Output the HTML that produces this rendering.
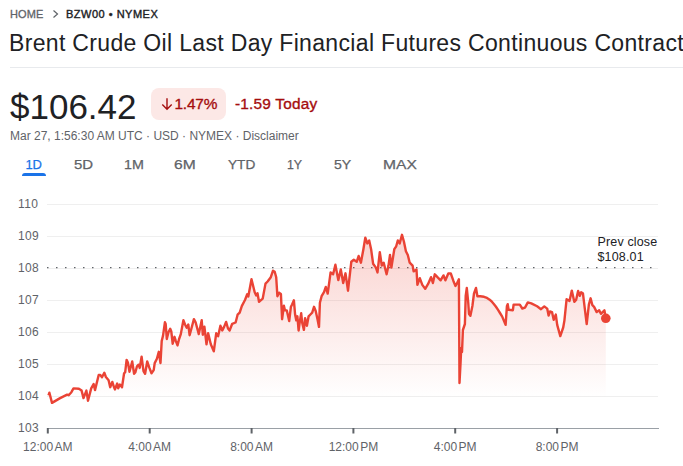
<!DOCTYPE html>
<html><head><meta charset="utf-8">
<style>
html,body{margin:0;padding:0;background:#fff;width:683px;height:466px;overflow:hidden;position:relative;font-family:"Liberation Sans",sans-serif;}
.a{position:absolute;white-space:nowrap;}
#crumb{left:10px;top:8px;font-size:11px;color:#5f6368;letter-spacing:0.1px;-webkit-text-stroke:0.3px #5f6368;}
#crumb2{left:66px;top:8px;font-size:11px;color:#202124;letter-spacing:0.5px;-webkit-text-stroke:0.4px #202124;}
#title{left:9px;top:30px;font-size:23px;color:#202124;letter-spacing:0.33px;}
#hr{left:10px;top:67px;width:673px;height:1px;background:#e8eaed;}
#price{left:10px;top:87px;font-size:35px;color:#202124;letter-spacing:0px;}
#badge{left:151px;top:88px;width:75px;height:32px;border-radius:8px;background:#fce8e6;}
#pct{left:174.5px;top:95px;font-size:15.4px;color:#a50e0e;letter-spacing:-0.2px;-webkit-text-stroke:0.35px #a50e0e;}
#chg{left:235px;top:95px;font-size:15.4px;color:#a50e0e;letter-spacing:0.2px;-webkit-text-stroke:0.35px #a50e0e;}
#meta{left:10px;top:129px;font-size:12px;color:#5f6368;}
.tab{transform-origin:0 0;top:157px;font-size:13px;color:#5f6368;-webkit-text-stroke:0.25px currentColor;}
#ul{left:22px;top:173px;width:24px;height:3px;background:#1a73e8;border-radius:3px 3px 0 0;}
.yl{left:18px;font-size:12px;color:#5f6368;letter-spacing:0.35px;}
.ns{display:inline-block;width:1.5px}
.xl{top:440px;font-size:12px;color:#5f6368;transform:translateX(-50%);}
#prev{left:597.5px;top:235px;font-size:12.5px;color:#202124;line-height:15.2px;letter-spacing:0.15px;}
</style></head><body>
<div class="a" id="crumb">HOME</div><svg class="a" style="left:51px;top:9px" width="9" height="10" viewBox="0 0 9 10"><path d="M2.5 1.5L6.5 5L2.5 8.5" fill="none" stroke="#5f6368" stroke-width="1.2"/></svg><div class="a" id="crumb2">BZW00 • NYMEX</div>
<div class="a" id="title">Brent Crude Oil Last Day Financial Futures Continuous Contract</div>
<div class="a" id="hr"></div>
<div class="a" id="price">$106.42</div>
<div class="a" id="badge"></div>
<svg class="a" style="left:160px;top:97px" width="14" height="14" viewBox="0 0 14 14"><path d="M7 1.2V12 M2.3 7.6L7 12.2L11.7 7.6" fill="none" stroke="#a50e0e" stroke-width="1.4"/></svg>
<div class="a" id="pct">1.47%</div>
<div class="a" id="chg">-1.59 Today</div>
<div class="a" id="meta">Mar 27, 1:56:30 AM UTC · USD · NYMEX · Disclaimer</div>
<div class="a tab" style="left:25.4px;transform:scaleX(1.0);color:#1a73e8;">1D</div>
<div class="a tab" style="left:73.7px;transform:scaleX(1.15);">5D</div>
<div class="a tab" style="left:124.2px;transform:scaleX(1.1);">1M</div>
<div class="a tab" style="left:174.1px;transform:scaleX(1.2);">6M</div>
<div class="a tab" style="left:227.7px;transform:scaleX(1.05);">YTD</div>
<div class="a tab" style="left:287.4px;transform:scaleX(0.95);">1Y</div>
<div class="a tab" style="left:333.6px;transform:scaleX(1.08);">5Y</div>
<div class="a tab" style="left:382.7px;transform:scaleX(1.2);">MAX</div>
<div class="a" id="ul"></div>
<svg class="a" style="left:0;top:0" width="683" height="466" viewBox="0 0 683 466">
<defs><linearGradient id="g" x1="0" y1="235" x2="0" y2="398" gradientUnits="userSpaceOnUse">
<stop offset="0" stop-color="#ea4335" stop-opacity="0.24"/><stop offset="1" stop-color="#ea4335" stop-opacity="0"/></linearGradient></defs>
<g stroke="#efefef" stroke-width="1">
<line x1="47" y1="204.5" x2="658" y2="204.5"/>
<line x1="47" y1="236.5" x2="658" y2="236.5"/>
<line x1="47" y1="268.5" x2="658" y2="268.5"/>
<line x1="47" y1="300.5" x2="658" y2="300.5"/>
<line x1="47" y1="332.5" x2="658" y2="332.5"/>
<line x1="47" y1="364.5" x2="658" y2="364.5"/>
<line x1="47" y1="396.5" x2="658" y2="396.5"/>
</g>
<line x1="47" y1="267.6" x2="652.5" y2="267.6" stroke="#5f6368" stroke-width="1.3" stroke-dasharray="1.5 7.5"/>
<path d="M48.5 395.4 L49.4 392.7 L52.0 402.9 L60.1 398.1 L67.1 394.6 L68.7 395.2 L71.4 392.2 L73.5 388.4 L78.9 388.8 L81.6 390.6 L83.5 398.1 L86.4 390.6 L88.0 400.8 L91.2 388.4 L93.6 384.1 L95.0 390.1 L98.7 375.0 L100.3 375.0 L102.0 377.2 L104.3 372.7 L105.9 377.0 L108.6 380.2 L110.2 387.2 L112.3 381.9 L114.0 387.2 L115.0 389.4 L117.2 383.5 L118.2 388.3 L119.9 384.5 L122.0 387.2 L124.1 373.3 L125.2 372.2 L126.6 359.9 L127.9 362.5 L129.5 371.7 L132.2 361.5 L134.1 373.8 L135.4 372.2 L137.0 366.3 L138.6 364.7 L139.7 367.9 L141.6 356.6 L143.5 371.1 L145.1 373.8 L147.2 361.5 L149.4 367.9 L151.5 373.3 L153.7 370.1 L154.7 363.1 L156.9 358.8 L158.8 351.8 L160.5 363.0 L161.7 341.1 L163.0 335.8 L164.9 322.3 L165.7 324.0 L166.8 339.0 L168.4 332.5 L170.2 328.8 L171.3 331.5 L172.7 343.8 L174.5 336.8 L175.9 341.1 L177.5 345.4 L179.1 339.0 L180.8 334.1 L183.4 320.2 L185.0 324.5 L186.7 327.7 L188.3 324.5 L189.6 335.2 L191.5 328.2 L193.9 319.1 L195.6 322.3 L198.8 334.1 L201.7 320.2 L202.8 334.7 L204.4 326.6 L206.5 344.3 L208.1 333.1 L210.8 344.3 L213.8 351.3 L216.2 333.3 L218.1 336.2 L220.4 325.7 L222.3 330.5 L224.2 326.6 L226.1 321.9 L228.0 328.5 L229.6 330.5 L232.2 323.8 L235.6 322.5 L237.6 314.7 L239.7 312.6 L241.8 306.1 L245.1 299.7 L247.2 294.3 L248.3 296.5 L251.5 279.3 L254.7 292.2 L256.2 295.4 L257.5 293.3 L259.0 301.8 L262.7 298.6 L265.5 283.6 L267.6 281.5 L270.8 277.2 L273.0 270.7 L274.7 271.8 L276.2 277.2 L277.4 296.2 L279.1 292.7 L280.9 293.9 L282.1 319.2 L283.9 305.7 L285.0 310.4 L286.8 310.4 L289.2 321.0 L290.9 306.8 L292.1 304.5 L293.9 300.3 L295.1 314.5 L296.3 320.4 L297.4 316.3 L298.6 330.5 L299.8 321.6 L301.2 313.3 L302.2 322.8 L303.9 329.9 L305.1 318.1 L306.9 325.7 L308.6 316.3 L310.4 314.5 L312.2 312.7 L314.0 306.8 L315.7 311.0 L317.5 319.2 L319.0 326.9 L319.9 302.7 L321.6 296.2 L324.0 292.1 L325.8 287.0 L327.7 293.6 L330.6 272.4 L333.1 274.3 L335.4 264.7 L338.3 280.1 L340.8 269.5 L343.2 283.0 L345.5 273.3 L348.0 290.7 L351.3 261.8 L353.8 259.8 L356.7 261.8 L358.6 256.0 L360.9 262.7 L363.4 249.2 L365.3 237.6 L367.3 243.4 L369.2 240.5 L371.1 249.2 L373.1 263.7 L375.9 267.6 L377.5 272.4 L379.8 252.1 L381.8 265.6 L383.7 262.7 L386.6 274.3 L388.5 265.6 L390.0 255.0 L391.4 267.6 L394.3 249.2 L396.2 246.3 L397.8 240.5 L399.7 243.4 L402.0 234.8 L403.9 241.5 L405.9 251.2 L407.8 255.0 L409.7 262.7 L412.6 265.6 L413.6 271.4 L416.5 269.5 L417.4 284.9 L419.8 278.2 L422.3 284.9 L425.2 288.8 L428.1 283.9 L431.0 277.2 L432.9 283.0 L434.8 274.3 L437.7 277.4 L440.6 280.3 L443.5 275.4 L445.4 280.3 L448.3 273.5 L450.8 273.5 L453.5 281.2 L455.5 286.0 L457.0 283.2 L458.9 279.3 L459.5 383.0 L460.6 362.0 L461.2 348.0 L462.0 352.0 L462.9 330.0 L464.9 324.0 L465.7 296.0 L466.8 288.0 L468.2 302.0 L469.0 314.0 L470.4 315.8 L472.4 306.0 L474.0 293.5 L476.0 288.0 L477.4 296.3 L480.2 296.3 L484.0 296.8 L487.0 297.9 L489.3 299.4 L491.5 301.2 L493.6 303.7 L495.8 306.5 L497.9 309.7 L500.0 313.0 L502.2 316.6 L505.6 324.8 L506.9 306.3 L507.7 304.2 L508.6 309.7 L512.9 310.2 L513.6 304.6 L519.8 304.6 L522.3 308.5 L525.0 307.6 L527.8 302.4 L531.3 303.4 L537.1 306.3 L541.0 309.2 L544.3 306.4 L547.2 308.6 L548.6 315.5 L550.0 311.5 L552.0 312.1 L553.7 319.8 L555.8 314.6 L557.2 324.9 L560.3 336.1 L563.2 327.5 L564.4 320.6 L566.6 299.2 L569.5 300.9 L571.8 290.6 L574.3 301.8 L576.1 300.0 L578.1 290.9 L579.8 295.8 L581.2 292.3 L582.9 293.2 L586.7 324.1 L588.9 304.3 L590.6 298.3 L592.4 305.2 L594.1 306.9 L596.7 312.1 L599.2 310.3 L600.9 313.8 L604.4 310.3 L605.8 318.1 L605.8 397 L48.5 397 Z" fill="url(#g)"/>
<path d="M48.5 395.4 L49.4 392.7 L52.0 402.9 L60.1 398.1 L67.1 394.6 L68.7 395.2 L71.4 392.2 L73.5 388.4 L78.9 388.8 L81.6 390.6 L83.5 398.1 L86.4 390.6 L88.0 400.8 L91.2 388.4 L93.6 384.1 L95.0 390.1 L98.7 375.0 L100.3 375.0 L102.0 377.2 L104.3 372.7 L105.9 377.0 L108.6 380.2 L110.2 387.2 L112.3 381.9 L114.0 387.2 L115.0 389.4 L117.2 383.5 L118.2 388.3 L119.9 384.5 L122.0 387.2 L124.1 373.3 L125.2 372.2 L126.6 359.9 L127.9 362.5 L129.5 371.7 L132.2 361.5 L134.1 373.8 L135.4 372.2 L137.0 366.3 L138.6 364.7 L139.7 367.9 L141.6 356.6 L143.5 371.1 L145.1 373.8 L147.2 361.5 L149.4 367.9 L151.5 373.3 L153.7 370.1 L154.7 363.1 L156.9 358.8 L158.8 351.8 L160.5 363.0 L161.7 341.1 L163.0 335.8 L164.9 322.3 L165.7 324.0 L166.8 339.0 L168.4 332.5 L170.2 328.8 L171.3 331.5 L172.7 343.8 L174.5 336.8 L175.9 341.1 L177.5 345.4 L179.1 339.0 L180.8 334.1 L183.4 320.2 L185.0 324.5 L186.7 327.7 L188.3 324.5 L189.6 335.2 L191.5 328.2 L193.9 319.1 L195.6 322.3 L198.8 334.1 L201.7 320.2 L202.8 334.7 L204.4 326.6 L206.5 344.3 L208.1 333.1 L210.8 344.3 L213.8 351.3 L216.2 333.3 L218.1 336.2 L220.4 325.7 L222.3 330.5 L224.2 326.6 L226.1 321.9 L228.0 328.5 L229.6 330.5 L232.2 323.8 L235.6 322.5 L237.6 314.7 L239.7 312.6 L241.8 306.1 L245.1 299.7 L247.2 294.3 L248.3 296.5 L251.5 279.3 L254.7 292.2 L256.2 295.4 L257.5 293.3 L259.0 301.8 L262.7 298.6 L265.5 283.6 L267.6 281.5 L270.8 277.2 L273.0 270.7 L274.7 271.8 L276.2 277.2 L277.4 296.2 L279.1 292.7 L280.9 293.9 L282.1 319.2 L283.9 305.7 L285.0 310.4 L286.8 310.4 L289.2 321.0 L290.9 306.8 L292.1 304.5 L293.9 300.3 L295.1 314.5 L296.3 320.4 L297.4 316.3 L298.6 330.5 L299.8 321.6 L301.2 313.3 L302.2 322.8 L303.9 329.9 L305.1 318.1 L306.9 325.7 L308.6 316.3 L310.4 314.5 L312.2 312.7 L314.0 306.8 L315.7 311.0 L317.5 319.2 L319.0 326.9 L319.9 302.7 L321.6 296.2 L324.0 292.1 L325.8 287.0 L327.7 293.6 L330.6 272.4 L333.1 274.3 L335.4 264.7 L338.3 280.1 L340.8 269.5 L343.2 283.0 L345.5 273.3 L348.0 290.7 L351.3 261.8 L353.8 259.8 L356.7 261.8 L358.6 256.0 L360.9 262.7 L363.4 249.2 L365.3 237.6 L367.3 243.4 L369.2 240.5 L371.1 249.2 L373.1 263.7 L375.9 267.6 L377.5 272.4 L379.8 252.1 L381.8 265.6 L383.7 262.7 L386.6 274.3 L388.5 265.6 L390.0 255.0 L391.4 267.6 L394.3 249.2 L396.2 246.3 L397.8 240.5 L399.7 243.4 L402.0 234.8 L403.9 241.5 L405.9 251.2 L407.8 255.0 L409.7 262.7 L412.6 265.6 L413.6 271.4 L416.5 269.5 L417.4 284.9 L419.8 278.2 L422.3 284.9 L425.2 288.8 L428.1 283.9 L431.0 277.2 L432.9 283.0 L434.8 274.3 L437.7 277.4 L440.6 280.3 L443.5 275.4 L445.4 280.3 L448.3 273.5 L450.8 273.5 L453.5 281.2 L455.5 286.0 L457.0 283.2 L458.9 279.3 L459.5 383.0 L460.6 362.0 L461.2 348.0 L462.0 352.0 L462.9 330.0 L464.9 324.0 L465.7 296.0 L466.8 288.0 L468.2 302.0 L469.0 314.0 L470.4 315.8 L472.4 306.0 L474.0 293.5 L476.0 288.0 L477.4 296.3 L480.2 296.3 L484.0 296.8 L487.0 297.9 L489.3 299.4 L491.5 301.2 L493.6 303.7 L495.8 306.5 L497.9 309.7 L500.0 313.0 L502.2 316.6 L505.6 324.8 L506.9 306.3 L507.7 304.2 L508.6 309.7 L512.9 310.2 L513.6 304.6 L519.8 304.6 L522.3 308.5 L525.0 307.6 L527.8 302.4 L531.3 303.4 L537.1 306.3 L541.0 309.2 L544.3 306.4 L547.2 308.6 L548.6 315.5 L550.0 311.5 L552.0 312.1 L553.7 319.8 L555.8 314.6 L557.2 324.9 L560.3 336.1 L563.2 327.5 L564.4 320.6 L566.6 299.2 L569.5 300.9 L571.8 290.6 L574.3 301.8 L576.1 300.0 L578.1 290.9 L579.8 295.8 L581.2 292.3 L582.9 293.2 L586.7 324.1 L588.9 304.3 L590.6 298.3 L592.4 305.2 L594.1 306.9 L596.7 312.1 L599.2 310.3 L600.9 313.8 L604.4 310.3 L605.8 318.1" fill="none" stroke="#ea4335" stroke-width="2.4" stroke-linejoin="round"/>
<circle cx="605.8" cy="318.3" r="4.8" fill="#ea4335"/>
<line x1="47" y1="428.5" x2="659" y2="428.5" stroke="#9aa0a6" stroke-width="1"/>
<g stroke="#5f6368" stroke-width="2">
<line x1="47.8" y1="428" x2="47.8" y2="433.5"/>
<line x1="149.7" y1="428" x2="149.7" y2="433.5"/>
<line x1="251.6" y1="428" x2="251.6" y2="433.5"/>
<line x1="353.4" y1="428" x2="353.4" y2="433.5"/>
<line x1="455.2" y1="428" x2="455.2" y2="433.5"/>
<line x1="557.1" y1="428" x2="557.1" y2="433.5"/>
</g>
</svg>
<div class="a yl" style="top:197px">110</div>
<div class="a yl" style="top:229px">109</div>
<div class="a yl" style="top:261px">108</div>
<div class="a yl" style="top:293px">107</div>
<div class="a yl" style="top:325px">106</div>
<div class="a yl" style="top:357px">105</div>
<div class="a yl" style="top:389px">104</div>
<div class="a yl" style="top:421px">103</div>
<div class="a xl" style="left:47.8px">12:00<span class="ns"></span>AM</div>
<div class="a xl" style="left:149.7px">4:00<span class="ns"></span>AM</div>
<div class="a xl" style="left:251.6px">8:00<span class="ns"></span>AM</div>
<div class="a xl" style="left:353.4px">12:00<span class="ns"></span>PM</div>
<div class="a xl" style="left:455.2px">4:00<span class="ns"></span>PM</div>
<div class="a xl" style="left:557.1px">8:00<span class="ns"></span>PM</div>
<div class="a" id="prev">Prev close<br>$108.01</div>
</body></html>
